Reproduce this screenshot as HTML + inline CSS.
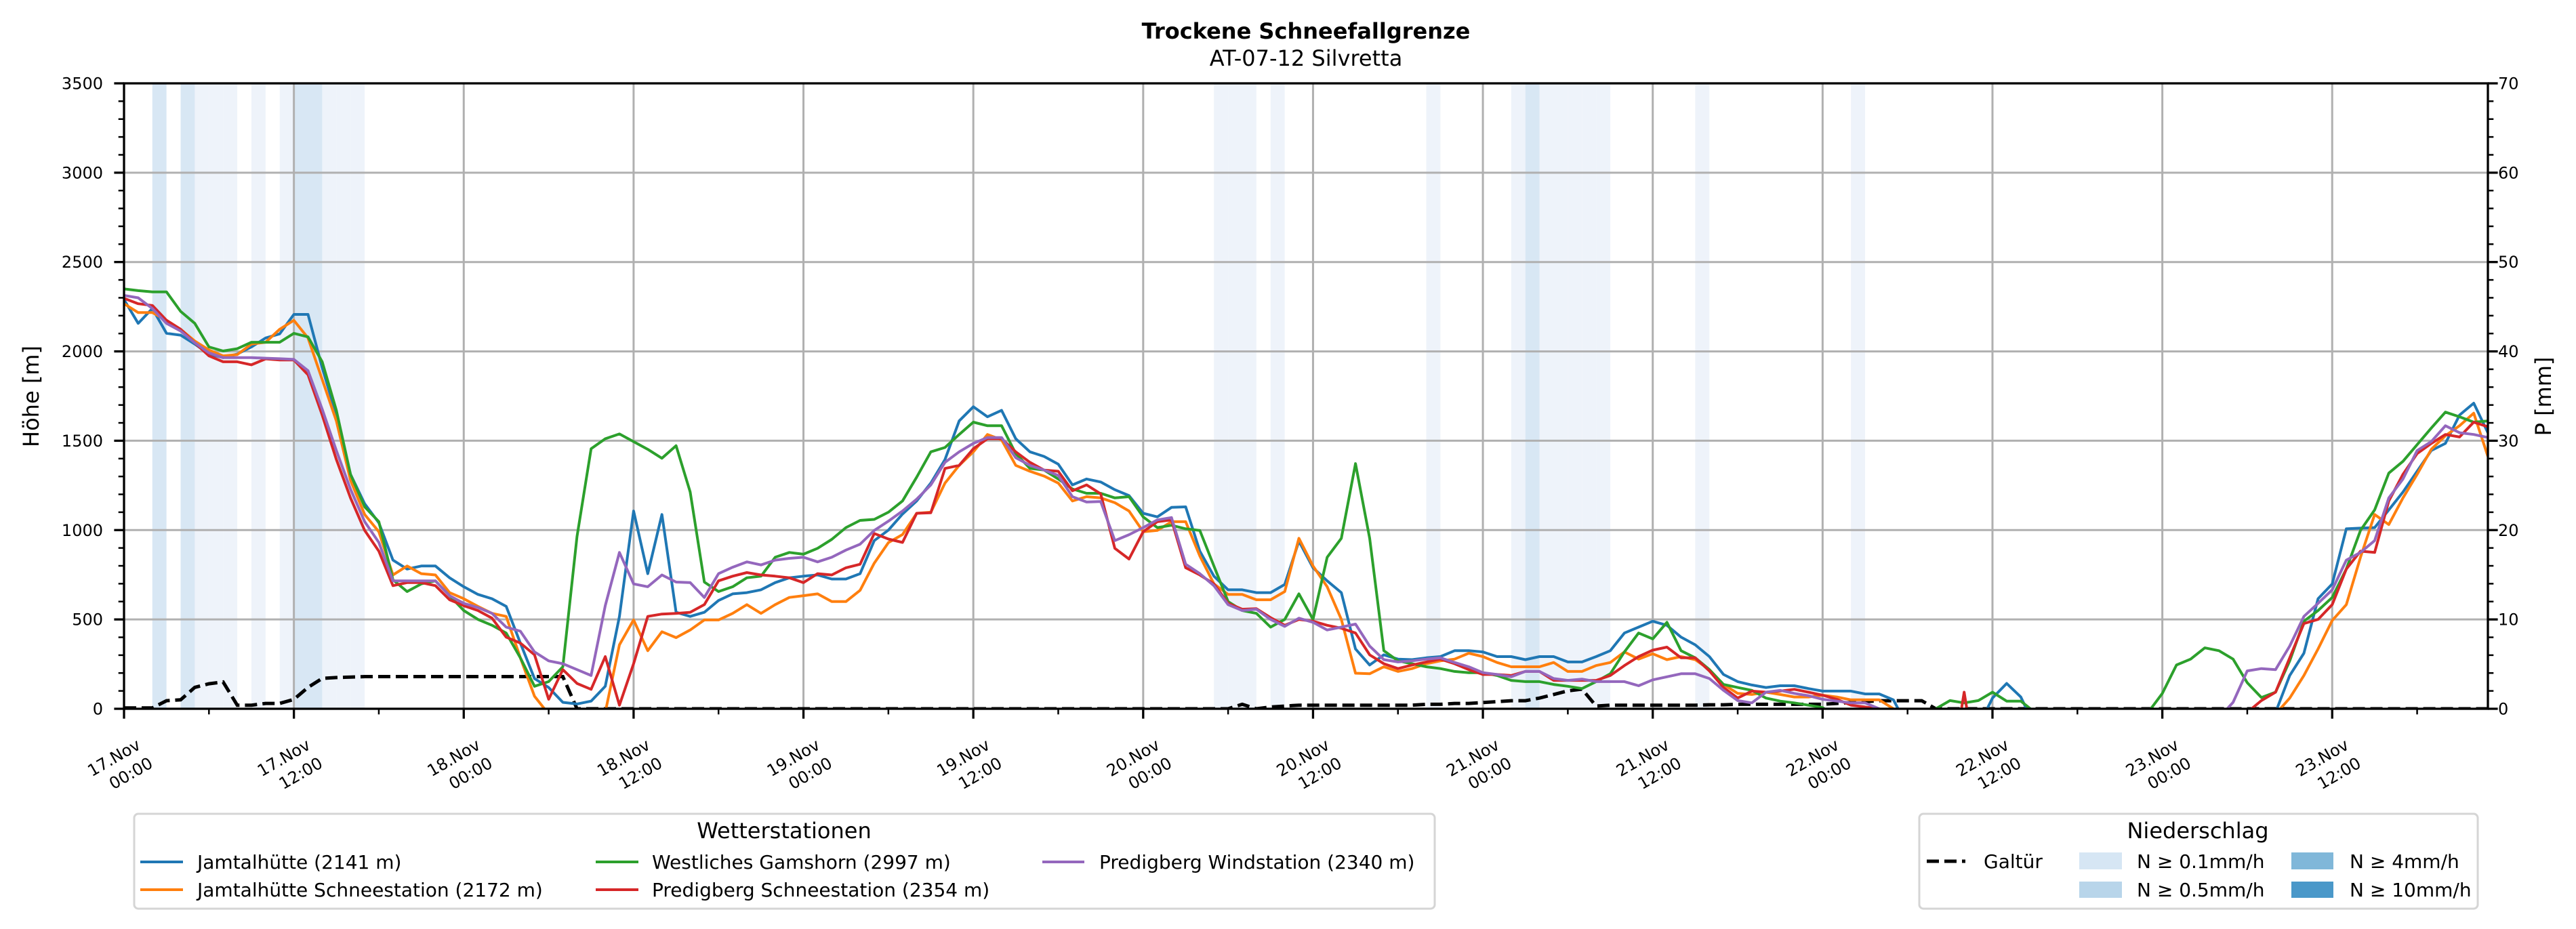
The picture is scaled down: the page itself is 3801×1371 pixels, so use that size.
<!DOCTYPE html>
<html><head><meta charset="utf-8">
<style>
html,body{margin:0;padding:0;background:#fff;}
svg{display:block;font-family:"DejaVu Sans","Liberation Sans",sans-serif;}
</style></head>
<body>
<svg id="chart" width="3801" height="1371" viewBox="0 0 3801 1371" xmlns="http://www.w3.org/2000/svg">
<defs><clipPath id="plotclip"><rect x="183" y="123" width="3488" height="923"/></clipPath></defs>
<text x="1927" y="57" text-anchor="middle" font-size="32" font-weight="bold">Trockene Schneefallgrenze</text>
<text x="1927" y="97" text-anchor="middle" font-size="32">AT-07-12 Silvretta</text>
<g id="bands"></g>
<g id="grid"></g>
<g id="series" clip-path="url(#plotclip)"></g>
<g id="axes"></g>
<text transform="translate(57,585) rotate(-90)" text-anchor="middle" font-size="32">Höhe [m]</text>
<text transform="translate(3764,585) rotate(-90)" text-anchor="middle" font-size="32">P [mm]</text>

<g>
<rect x="198" y="1201" width="1919" height="140" rx="6" fill="#fff" stroke="#d5d5d5" stroke-width="3"/>
<text x="1157" y="1237" text-anchor="middle" font-size="32">Wetterstationen</text>
<g><line x1="207" y1="1272" x2="270" y2="1272" stroke="#1f77b4" stroke-width="4"/><text x="291" y="1282" font-size="28">Jamtalhütte (2141 m)</text></g>
<g><line x1="207" y1="1313" x2="270" y2="1313" stroke="#ff7f0e" stroke-width="4"/><text x="291" y="1323" font-size="28">Jamtalhütte Schneestation (2172 m)</text></g>
<g><line x1="879" y1="1272" x2="942" y2="1272" stroke="#2ca02c" stroke-width="4"/><text x="962" y="1282" font-size="28">Westliches Gamshorn (2997 m)</text></g>
<g><line x1="879" y1="1313" x2="942" y2="1313" stroke="#d62728" stroke-width="4"/><text x="962" y="1323" font-size="28">Predigberg Schneestation (2354 m)</text></g>
<g><line x1="1538" y1="1272" x2="1600" y2="1272" stroke="#9467bd" stroke-width="4"/><text x="1622" y="1282" font-size="28">Predigberg Windstation (2340 m)</text></g>
</g>

<g>
<rect x="2832" y="1201" width="824" height="140" rx="6" fill="#fff" stroke="#d5d5d5" stroke-width="3"/>
<text x="3243" y="1237" text-anchor="middle" font-size="32">Niederschlag</text>
<g><line x1="2843" y1="1271" x2="2900" y2="1271" stroke="#000" stroke-width="5" stroke-dasharray="18 8"/><text x="2927" y="1281" font-size="28">Galtür</text></g>
<g><rect x="3068" y="1258" width="63" height="25" fill="#d6e6f4"/><text x="3153" y="1281" font-size="28">N ≥ 0.1mm/h</text></g>
<g><rect x="3068" y="1301" width="63" height="24" fill="#b8d5ea"/><text x="3153" y="1323" font-size="28">N ≥ 0.5mm/h</text></g>
<g><rect x="3381" y="1258" width="62" height="25" fill="#80b7d9"/><text x="3467" y="1281" font-size="28">N ≥ 4mm/h</text></g>
<g><rect x="3381" y="1301" width="62" height="24" fill="#4a98c9"/><text x="3467" y="1323" font-size="28">N ≥ 10mm/h</text></g>
</g>
</svg>
<script>
const NS='http://www.w3.org/2000/svg';
// ---- data (hourly, hour 0 = 17.Nov 00:00) ----
const xTickLabels=[["17.Nov","00:00"],["17.Nov","12:00"],["18.Nov","00:00"],["18.Nov","12:00"],["19.Nov","00:00"],["19.Nov","12:00"],["20.Nov","00:00"],["20.Nov","12:00"],["21.Nov","00:00"],["21.Nov","12:00"],["22.Nov","00:00"],["22.Nov","12:00"],["23.Nov","00:00"],["23.Nov","12:00"]];
const yTicks=[0,500,1000,1500,2000,2500,3000,3500];
const y2Ticks=[0,10,20,30,40,50,60,70];
const bandLight=[5,6,7,9,11,14,15,16,77,78,79,81,92,98,100,101,102,103,104,111,122];
const bandMid=[2,4,12,13,99];
const jamtal=[2290,2157,2240,2101,2091,2041,1985,1965,1985,2025,2075,2098,
2207,2207,1909,1644,1312,1147,1041,832,782,799,799,733,
683,640,616,573,368,169,119,36,27,43,126,517,
1107,756,1087,540,517,540,606,643,650,666,706,733,
742,749,726,726,756,941,1000,1090,1163,1263,1395,1611,
1690,1634,1670,1511,1438,1412,1369,1253,1286,1269,1226,1193,
1094,1074,1127,1130,882,742,666,666,650,650,696,938,
789,716,650,335,245,302,278,275,285,292,325,325,
318,292,292,275,292,292,262,262,292,325,424,457,
490,467,401,358,292,192,152,133,119,129,129,113,
99,99,99,83,83,50,-100,-100,-100,-100,-100,-100,
60,142,66,-100,-100,-100,-100,-100,-100,-100,-100,-100,
-100,-100,-100,-100,-100,-100,-100,-100,-20,186,311,616,
699,1007,1011,1014,1113,1213,1329,1445,1485,1644,1710,1545];
const jamtalSchnee=[2267,2217,2217,2174,2124,2058,2008,1975,1982,2041,2051,2124,
2174,2075,1843,1611,1279,1087,991,749,799,756,749,650,
616,573,534,517,285,70,-30,-100,-100,-100,-20,358,
497,325,431,398,441,497,497,534,583,534,583,623,
633,643,600,600,663,815,930,975,1094,1100,1263,1362,
1438,1535,1505,1362,1329,1302,1263,1163,1187,1180,1153,1107,
991,998,1047,1047,855,699,640,640,610,610,656,954,
799,683,500,199,196,235,209,225,252,268,278,311,
292,259,235,235,235,259,209,209,242,259,318,278,
308,275,292,275,219,136,86,80,93,80,66,66,
76,66,50,50,50,0,-100,-100,-100,-100,-100,-100,
-100,-100,-100,-100,-100,-100,-100,-100,-100,-100,-100,-100,
-100,-100,-100,-100,-100,-100,-100,-100,-30,60,186,335,
494,583,848,1087,1031,1180,1312,1452,1528,1584,1654,1412];
const gamshorn=[2350,2340,2333,2333,2224,2157,2025,2002,2015,2051,2051,2051,
2101,2081,1942,1670,1312,1130,1047,722,656,699,716,633,
550,500,467,424,285,126,152,235,964,1455,1511,1538,
1495,1452,1402,1472,1213,709,656,683,733,742,848,875,
865,898,948,1014,1054,1060,1100,1163,1296,1438,1462,1535,
1604,1584,1584,1428,1345,1336,1286,1230,1206,1206,1180,1187,
1074,1014,1027,1007,998,799,600,550,534,457,500,643,
500,848,954,1372,954,325,268,252,235,225,209,202,
202,186,159,152,152,136,126,113,152,196,318,424,
391,484,325,285,219,136,119,103,60,43,33,20,
7,-50,-50,-50,-50,-50,-50,-50,0,46,33,46,
93,43,43,-20,-50,-50,-50,-50,-50,-50,-50,-20,
86,245,278,341,325,278,146,63,93,268,490,550,
623,782,998,1113,1319,1385,1478,1571,1660,1634,1604,1611];
const predigSchnee=[2297,2267,2257,2174,2124,2048,1975,1942,1942,1925,1958,1952,
1952,1869,1644,1395,1180,998,882,689,706,706,689,610,
577,550,507,401,368,302,53,219,142,109,292,20,
252,517,530,534,540,583,716,742,762,749,742,733,
706,756,749,789,809,981,950,931,1094,1097,1345,1362,
1455,1511,1511,1438,1379,1336,1329,1220,1253,1203,898,838,
991,1047,1057,789,749,699,590,557,560,510,467,500,
490,467,451,424,302,252,225,245,262,278,252,219,
192,192,186,209,209,159,159,159,159,186,242,292,
328,345,285,285,212,119,60,99,93,99,109,93,
76,53,20,10,0,-100,-100,-100,-100,-400,93,-400,
-100,-100,-100,-100,-100,-100,-100,-100,-100,-100,-100,-100,
-100,-100,-100,-100,-100,-100,-20,46,93,285,477,500,
583,782,882,875,1163,1312,1428,1485,1535,1521,1604,1578];
const predigWind=[2313,2300,2240,2157,2114,2048,1992,1965,1965,1965,1962,1959,
1955,1892,1677,1445,1229,1047,931,716,716,716,716,633,
590,567,534,457,434,318,268,252,219,186,577,875,
699,683,749,709,706,623,756,792,822,805,832,842,
848,822,848,888,921,998,1050,1107,1173,1253,1379,1438,
1485,1518,1518,1405,1362,1336,1306,1187,1157,1160,941,974,
1014,1057,1070,809,756,689,583,550,557,500,461,507,
484,441,457,474,351,275,262,268,278,285,259,235,
202,192,179,209,209,169,159,166,152,152,152,129,
162,179,196,196,169,103,46,33,93,103,86,73,
53,43,33,33,0,-100,-100,-100,-100,-100,-100,-100,
-100,-100,-100,-100,-100,-100,-100,-100,-100,-100,-100,-100,
-100,-100,-100,-100,-50,36,212,225,219,351,517,590,
666,832,875,941,1180,1286,1445,1495,1584,1545,1535,1518];
const galtuer=[0.1,0.1,0.1,0.9,1.0,2.4,2.8,3.0,0.4,0.4,0.6,0.6,
1.05,2.4,3.4,3.5,3.55,3.6,3.6,3.6,3.6,3.6,3.6,3.6,
3.6,3.6,3.6,3.6,3.6,3.6,3.6,3.6,0,0,0,0,
0,0,0,0,0,0,0,0,0,0,0,0,
0,0,0,0,0,0,0,0,0,0,0,0,
0,0,0,0,0,0,0,0,0,0,0,0,
0,0,0,0,0,0,0,0.5,0,0.2,0.3,0.4,
0.4,0.4,0.4,0.4,0.4,0.4,0.4,0.4,0.5,0.5,0.6,0.6,
0.7,0.8,0.9,0.9,1.2,1.6,2.0,2.2,0.3,0.4,0.4,0.4,
0.4,0.4,0.4,0.4,0.45,0.45,0.5,0.5,0.5,0.5,0.5,0.5,
0.5,0.6,0.7,0.8,0.9,0.9,0.9,0.9,0,0,0,0,
0,0,0,0,0,0,0,0,0,0,0,0,
0,0,0,0,0,0,0,0,0,0,0,0,
0,0,0,0,0,0,0,0,0,0,0,0];

// ---- scales ----
const X0=183,X1=3671,Y0=1046,Y1=123,HMAX=167;
const xs=h=>X0+(X1-X0)*h/HMAX;
const ys=v=>Y0-(Y0-Y1)*v/3500;
const ys2=v=>Y0-(Y0-Y1)*v/70;
function mk(tag,attrs,parent){const e=document.createElementNS(NS,tag);for(const k in attrs)e.setAttribute(k,attrs[k]);parent.appendChild(e);return e;}

const bands=document.getElementById('bands');
bandLight.forEach(h=>{const r=mk('rect',{x:xs(h),y:Y1,width:xs(h+1)-xs(h),height:Y0-Y1,fill:'#eef3fa'},bands);

});
bandMid.forEach(h=>{const r=mk('rect',{x:xs(h),y:Y1,width:xs(h+1)-xs(h),height:Y0-Y1,fill:'#d8e7f4'},bands);

});

const grid=document.getElementById('grid');
xTickLabels.forEach((l,i)=>{const x=xs(i*12);const g=mk('line',{x1:x,x2:x,y1:Y1,y2:Y0,stroke:'#b0b0b0','stroke-width':3},grid);

});
yTicks.forEach(v=>{const g=mk('line',{x1:X0,x2:X1,y1:ys(v),y2:ys(v),stroke:'#b0b0b0','stroke-width':3},grid);

});

const series=document.getElementById('series');
function poly(arr,sc,color,name,extra){const pts=arr.map((v,i)=>xs(i).toFixed(1)+','+sc(v).toFixed(1)).join(' ');
const p=mk('polyline',Object.assign({points:pts,fill:'none',stroke:color,'stroke-width':4,'stroke-linejoin':'round'},extra||{}),series);

}
poly(galtuer,ys2,'#000','galtuer-precip-line',{'stroke-width':5,'stroke-dasharray':'18 8','stroke-linejoin':'miter'});
poly(jamtal,ys,'#1f77b4','jamtal-line');
poly(jamtalSchnee,ys,'#ff7f0e','jamtal-schnee-line');
poly(gamshorn,ys,'#2ca02c','gamshorn-line');
poly(predigSchnee,ys,'#d62728','predig-schnee-line');
poly(predigWind,ys,'#9467bd','predig-wind-line');

const axes=document.getElementById('axes');
const fr=mk('rect',{x:X0,y:Y1,width:X1-X0,height:Y0-Y1,fill:'none',stroke:'#000','stroke-width':3.3},axes);


for(let v=0;v<=3500;v+=100){const maj=v%500===0;mk('line',{x1:X0-(maj?14.6:8.3),x2:X0,y1:ys(v),y2:ys(v),stroke:'#000','stroke-width':maj?3.3:2.5},axes);}
for(let v=0;v<=70;v+=2){const maj=v%10===0;mk('line',{x1:X1,x2:X1+(maj?14.6:8.3),y1:ys2(v),y2:ys2(v),stroke:'#000','stroke-width':maj?3.3:2.5},axes);}
for(let h=0;h<=HMAX;h+=6){const maj=h%12===0;mk('line',{x1:xs(h),x2:xs(h),y1:Y0,y2:Y0+(maj?14.6:8.3),stroke:'#000','stroke-width':maj?3.3:2.5},axes);}
yTicks.forEach(v=>{const t=mk('text',{x:152,y:ys(v)+8.5,'text-anchor':'end','font-size':24},axes);t.textContent=v;

});
y2Ticks.forEach(v=>{const t=mk('text',{x:3686,y:ys2(v)+8.5,'font-size':24},axes);t.textContent=v;

});
xTickLabels.forEach((l,i)=>{const x=xs(i*12);
const a=mk('text',{transform:`translate(${(x-15).toFixed(1)},1118) rotate(-30)`,'text-anchor':'middle',y:8.5,'font-size':24},axes);a.textContent=l[0];


const b=mk('text',{transform:`translate(${(x+10).toFixed(1)},1141) rotate(-30)`,'text-anchor':'middle',y:8.5,'font-size':24},axes);b.textContent=l[1];

});
</script>
</body></html>
